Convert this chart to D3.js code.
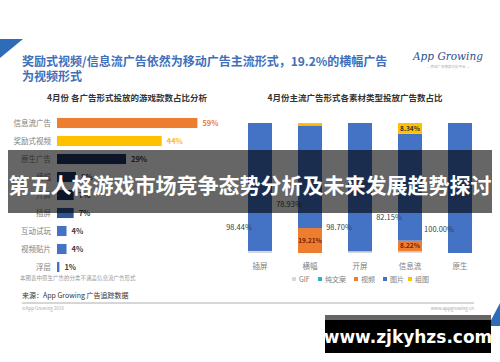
<!DOCTYPE html>
<html>
<head>
<meta charset="utf-8">
<script src="https://cdn.jsdelivr.net/npm/d3@7"></script>
<style>
body { margin: 0; background: #fff; }
svg { display: block; font-family: "Noto Sans CJK SC", "Noto Sans", sans-serif; }
</style>
</head>
<body>
<div id="chart"></div>
<script>
// left chart: share of games by ad form (April)
var formNames = ['信息流广告', '奖励式视频', '原生广告', '横幅', '开屏', '插屏', '互动试玩', '视频贴片', '浮层'];
var formValues = [59, 44, 29, 8, 7, 7, 4, 4, 1];
var formColors = ['#ed7d31', '#ffc000', '#203864', '#203864', '#203864', '#2f5597', '#4472c4', '#4472c4', '#4472c4'];

// right chart: material types per main ad form
var adTypes = ['插屏', '横幅', '开屏', '信息流', '原生'];
var materialNames = ['GIF', '纯文案', '视频', '图片', '组图'];
var materialColors = ['#d9d9d9', '#2ab0c5', '#ed7d31', '#4472c4', '#ffc000'];
var gifShare = [1.56, 0, 1.30, 1.29, 0];
var textShare = [0, 0, 0, 0, 0];
var videoShare = [0, 19.21, 0, 8.22, 0];
var imageShare = [98.44, 78.93, 98.70, 82.15, 100.00];
var groupShare = [0, 1.86, 0, 8.34, 0];

var W = 500, H = 362;
var svg = d3.select('#chart').append('svg').attr('width', W).attr('height', H);

// corner decorations
svg.append('path').attr('d', 'M0,39 L23,39 L0,58 Z').attr('fill', '#2e6cb8');
svg.append('path').attr('d', 'M500,303 L500,326 L488,326 Z').attr('fill', '#2e6cb8');

// headline
var head = svg.append('text').attr('x', 22).attr('font-size', 12).attr('font-weight', 'bold').attr('fill', '#3f6fba');
head.append('tspan').attr('x', 22).attr('y', 66).text('奖励式视频/信息流广告依然为移动广告主流形式，19.2%的横幅广告');
head.append('tspan').attr('x', 22).attr('y', 81).text('为视频形式');

// logo
svg.append('text').attr('x', 448).attr('y', 60).attr('text-anchor', 'middle')
	.attr('font-family', 'DejaVu Serif, serif').attr('font-style', 'italic').attr('font-size', 10.5)
	.attr('fill', '#2d4f8e').text('App Growing');
svg.append('text').attr('x', 448).attr('y', 68).attr('text-anchor', 'middle')
	.attr('font-size', 3.5).attr('fill', '#aaa').text('— 移动广告情报分析平台 —');

// ---- left chart
svg.append('text').attr('x', 127).attr('y', 101).attr('text-anchor', 'middle')
	.attr('font-size', 8.5).attr('font-weight', 'bold').attr('fill', '#333')
	.text('4月份 各广告形式投放的游戏款数占比分析');

var xL = d3.scaleLinear().domain([0, 100]).range([57, 295]);
var yL = d3.scaleBand().domain(formNames).range([114, 276]).paddingInner(0.44).paddingOuter(0.22);

var left = svg.append('g');
left.selectAll('rect').data(formNames).enter().append('rect')
	.attr('x', xL(0))
	.attr('y', (d) => yL(d))
	.attr('width', (d, i) => xL(formValues[i]) - xL(0))
	.attr('height', yL.bandwidth())
	.attr('fill', (d, i) => formColors[i]);

left.selectAll('text.cat').data(formNames).enter().append('text')
	.attr('class', 'cat')
	.attr('x', 51)
	.attr('y', (d) => yL(d) + yL.bandwidth() / 2 + 3)
	.attr('text-anchor', 'end')
	.attr('font-size', 7.5)
	.attr('fill', '#808080')
	.text((d) => d);

left.selectAll('text.val').data(formNames).enter().append('text')
	.attr('class', 'val')
	.attr('x', (d, i) => xL(formValues[i]) + 5)
	.attr('y', (d) => yL(d) + yL.bandwidth() / 2 + 3)
	.attr('font-size', 7.5)
	.attr('font-weight', 'bold')
	.attr('fill', (d, i) => (i < 2 ? formColors[i] : '#404040'))
	.text((d, i) => formValues[i] + '%');

svg.append('text').attr('x', 20).attr('y', 280).attr('font-size', 5.5).attr('fill', '#999')
	.text('本图表中原生广告的分类不涵盖信息流广告形式');

// ---- right chart
svg.append('text').attr('x', 355).attr('y', 101).attr('text-anchor', 'middle')
	.attr('font-size', 8.5).attr('font-weight', 'bold').attr('fill', '#333')
	.text('4月份主流广告形式各素材类型投放广告数占比');

var table = adTypes.map((t, i) => ({
	type: t,
	GIF: gifShare[i],
	'纯文案': textShare[i],
	'视频': videoShare[i],
	'图片': imageShare[i],
	'组图': groupShare[i]
}));
var stack = d3.stack().keys(materialNames)(table);

var xR = d3.scaleBand().domain(adTypes).range([235, 485]).paddingInner(0.52).paddingOuter(0.26);
var yR = d3.scaleLinear().domain([0, 100]).range([253, 123]);

var right = svg.append('g');
right.selectAll('g.layer').data(stack).enter().append('g')
	.attr('class', 'layer')
	.attr('fill', (d, i) => materialColors[i])
	.selectAll('rect').data((d) => d).enter().append('rect')
	.attr('x', (d) => xR(d.data.type))
	.attr('y', (d) => yR(d[1]))
	.attr('width', xR.bandwidth())
	.attr('height', (d) => yR(d[0]) - yR(d[1]));

// image share labels, to the left of each bar
var imgLayer = stack[3];
right.selectAll('text.img').data(imgLayer).enter().append('text')
	.attr('class', 'img')
	.attr('x', (d) => xR(d.data.type) + xR.bandwidth() / 2 - 21)
	.attr('y', (d) => yR(d[0]) - 21)
	.attr('text-anchor', 'middle')
	.attr('font-size', 7.5)
	.attr('fill', '#404040')
	.text((d) => d3.format('.2f')(d.data['图片']) + '%');

// video and group labels inside their segments
var boxLabels = [];
stack.forEach((layer, li) => {
	if (li === 2 || li === 4) {
		layer.forEach((d) => {
			if (d[1] - d[0] > 5) boxLabels.push({ d: d, key: materialNames[li] });
		});
	}
});
right.selectAll('text.box').data(boxLabels).enter().append('text')
	.attr('class', 'box')
	.attr('x', (b) => xR(b.d.data.type) + xR.bandwidth() / 2)
	.attr('y', (b) => (yR(b.d[0]) + yR(b.d[1])) / 2 + 2.5)
	.attr('text-anchor', 'middle')
	.attr('font-size', 6.5)
	.attr('font-weight', 'bold')
	.attr('fill', (b) => (b.key === '视频' ? '#7a1d00' : '#333'))
	.text((b) => d3.format('.2f')(b.d.data[b.key]) + '%');

right.selectAll('text.xcat').data(adTypes).enter().append('text')
	.attr('class', 'xcat')
	.attr('x', (d) => xR(d) + xR.bandwidth() / 2)
	.attr('y', 269)
	.attr('text-anchor', 'middle')
	.attr('font-size', 7.5)
	.attr('fill', '#808080')
	.text((d) => d);

// legend
var legX = [292, 318, 354, 383, 408];
var leg = svg.append('g').selectAll('g').data(materialNames).enter().append('g')
	.attr('transform', (d, i) => `translate(${legX[i]},280)`);
leg.append('rect').attr('x', 0).attr('y', -3).attr('width', 4).attr('height', 4)
	.attr('fill', (d, i) => materialColors[i]);
leg.append('text').attr('x', 7).attr('y', 1.5).attr('font-size', 7).attr('fill', '#808080').text((d) => d);

// footer
svg.append('text').attr('x', 22).attr('y', 298).attr('font-size', 7).attr('fill', '#333')
	.text('来源：App Growing 广告追踪数据');
svg.append('line').attr('x1', 22).attr('x2', 474).attr('y1', 303).attr('y2', 303)
	.attr('stroke', '#999').attr('stroke-width', 0.8);
svg.append('text').attr('x', 22).attr('y', 310).attr('font-size', 4.5).attr('fill', '#aaa').text('©App Growing 2018');
svg.append('text').attr('x', 474).attr('y', 310).attr('text-anchor', 'end').attr('font-size', 4.5)
	.attr('fill', '#aaa').text('www.appgrowing.cn');

// overlay banner
svg.append('rect').attr('x', 8).attr('y', 150).attr('width', 484).attr('height', 63)
	.attr('fill', '#000').attr('fill-opacity', 0.6);
svg.append('text').attr('x', 250).attr('y', 193).attr('text-anchor', 'middle')
	.attr('font-size', 21).attr('font-weight', 'bold').attr('fill', '#fff')
	.text('第五人格游戏市场竞争态势分析及未来发展趋势探讨');

// watermark
svg.append('rect').attr('x', 325).attr('y', 315).attr('width', 166).attr('height', 38).attr('fill', '#000');
svg.append('rect').attr('x', 325).attr('y', 315).attr('width', 166).attr('height', 5).attr('fill', '#666');
svg.append('text').attr('x', 408).attr('y', 343).attr('text-anchor', 'middle')
	.attr('font-family', 'DejaVu Sans, sans-serif').attr('font-size', 17).attr('font-weight', 'bold')
	.attr('fill', '#fff').text('www.zjkyhzs.com');
</script>
</body>
</html>
